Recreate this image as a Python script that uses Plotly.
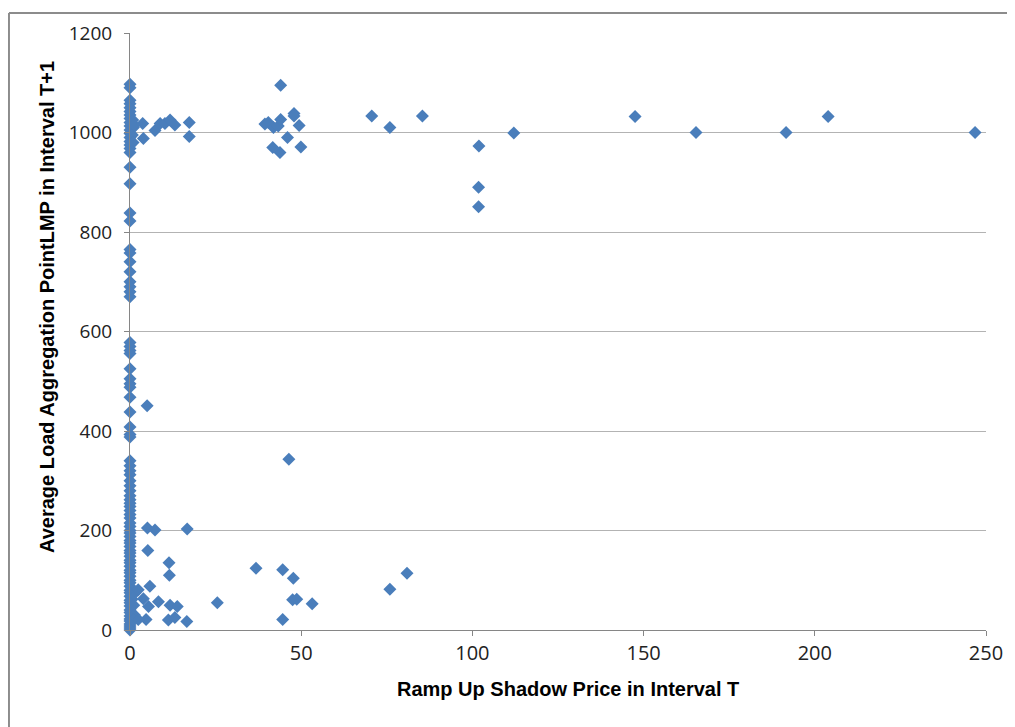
import plotly.graph_objects as go

# Ramp Up Shadow Price in Interval T (x) vs Average LAP LMP in Interval T+1 (y)
zero_col_y = [1097, 1090, 1065, 1058, 1050, 1042, 1035, 1028, 1020, 1013, 1005, 998, 990,
              982, 975, 968, 960, 930, 897, 838, 822,
              765, 758, 740, 720, 700, 690, 680, 670,
              578, 570, 562, 556, 525, 505, 495, 488, 468, 438, 408, 393, 388,
              340, 330, 320, 312, 300, 290, 280, 270, 262, 255, 248, 240, 232, 225,
              215, 208, 200, 195, 188, 180, 175, 168, 160, 155, 148, 140, 135, 128,
              120, 115, 108, 100, 95, 88, 80, 75, 68, 60, 55, 48, 40, 35, 28, 22,
              18, 12, 8, 4, 0]
zero_col_x = [0.0] * len(zero_col_y)

near_x = [0.8, 1.0, 0.7, 1.2, 0.9, 1.5, 0.6, 1.1, 1.3, 0.8]
near_y = [1025, 1010, 995, 1015, 980, 75, 62, 50, 30, 20]

other_x = [3.7, 3.9, 7.3, 8.8, 10.2, 11.7, 13.1, 17.3, 17.3,
           44.0, 39.4, 40.4, 41.9, 43.3, 44.0, 47.9, 47.9, 49.4, 46.0, 41.7, 43.8, 49.9,
           70.6, 75.9, 85.4, 101.9, 112.1, 101.8, 101.8,
           147.5, 165.3, 191.6, 203.9, 246.8,
           5.0, 46.4,
           5.1, 7.3, 16.7, 5.2, 11.4, 11.5, 5.8, 36.8, 44.6, 47.7, 47.5, 48.7, 53.2,
           44.6, 25.5, 8.3, 5.4, 3.9, 2.4, 11.7, 13.8, 11.2, 13.1, 16.6, 4.7, 2.4,
           75.9, 80.9]
other_y = [1018, 988, 1004, 1018, 1018, 1025, 1015, 1020, 992,
           1095, 1017, 1020, 1010, 1013, 1026, 1038, 1033, 1014, 990, 970, 960, 971,
           1033, 1010, 1033, 973, 999, 890, 851,
           1032, 1000, 1000, 1032, 1000,
           451, 343,
           205, 201, 203, 160, 135, 110, 88, 124, 121, 104, 61, 62, 53,
           21, 55, 57, 47, 63, 81, 50, 47, 20, 25, 17, 21, 21,
           82, 114]

x_vals = zero_col_x + near_x + other_x
y_vals = zero_col_y + near_y + other_y

x_ticks = [0, 50, 100, 150, 200, 250]
y_ticks = [0, 200, 400, 600, 800, 1000, 1200]

x_title = "Ramp Up Shadow Price in Interval T"
y_title = "Average Load Aggregation PointLMP in Interval T+1"

fig = go.Figure()
fig.add_trace(go.Scatter(
    x=x_vals, y=y_vals, mode="markers",
    marker=dict(symbol="diamond", size=10, color="#4a7ebb",
                line=dict(width=0)),
    cliponaxis=False, showlegend=False))

fig.update_layout(
    width=1015, height=727,
    margin=dict(l=122, r=37, t=21, b=105),
    plot_bgcolor="white", paper_bgcolor="white",
    xaxis=dict(range=[0, 250], tickvals=x_ticks, showgrid=False, zeroline=False,
               showline=True, linecolor="#868686", linewidth=1,
               ticks="outside", ticklen=5, tickcolor="#868686",
               tickfont=dict(family="Open Sans, Arial", size=20, color="#222222")),
    yaxis=dict(range=[0, 1200], tickvals=y_ticks, showgrid=True,
               gridcolor="#b3b3b3", gridwidth=1, zeroline=False,
               showline=True, linecolor="#868686", linewidth=1,
               ticks="outside", ticklen=5, tickcolor="#868686",
               ticklabelstandoff=8,
               tickfont=dict(family="Open Sans, Arial", size=19, color="#222222")),
    annotations=[
        dict(text="<b>" + x_title + "</b>", xref="paper", yref="paper",
             x=0.512, y=-0.098, xanchor="center", yanchor="middle", showarrow=False,
             font=dict(family="Liberation Sans, Arial", size=20, color="black")),
        dict(text="<b>" + y_title + "</b>", xref="paper", yref="paper",
             x=-0.097, y=0.541, xanchor="center", yanchor="middle", showarrow=False, textangle=-90,
             font=dict(family="Liberation Sans, Arial", size=20, color="black")),
    ],
    shapes=[
        dict(type="line", xref="paper", yref="paper", x0=-0.1414, x1=1.1, y0=1.0333, y1=1.0333,
             line=dict(color="#8c8c8c", width=2)),
        dict(type="line", xref="paper", yref="paper", x0=-0.1414, x1=-0.1414, y0=1.0333, y1=-0.2,
             line=dict(color="#8c8c8c", width=2)),
    ],
)

fig.write_html("out.html")
